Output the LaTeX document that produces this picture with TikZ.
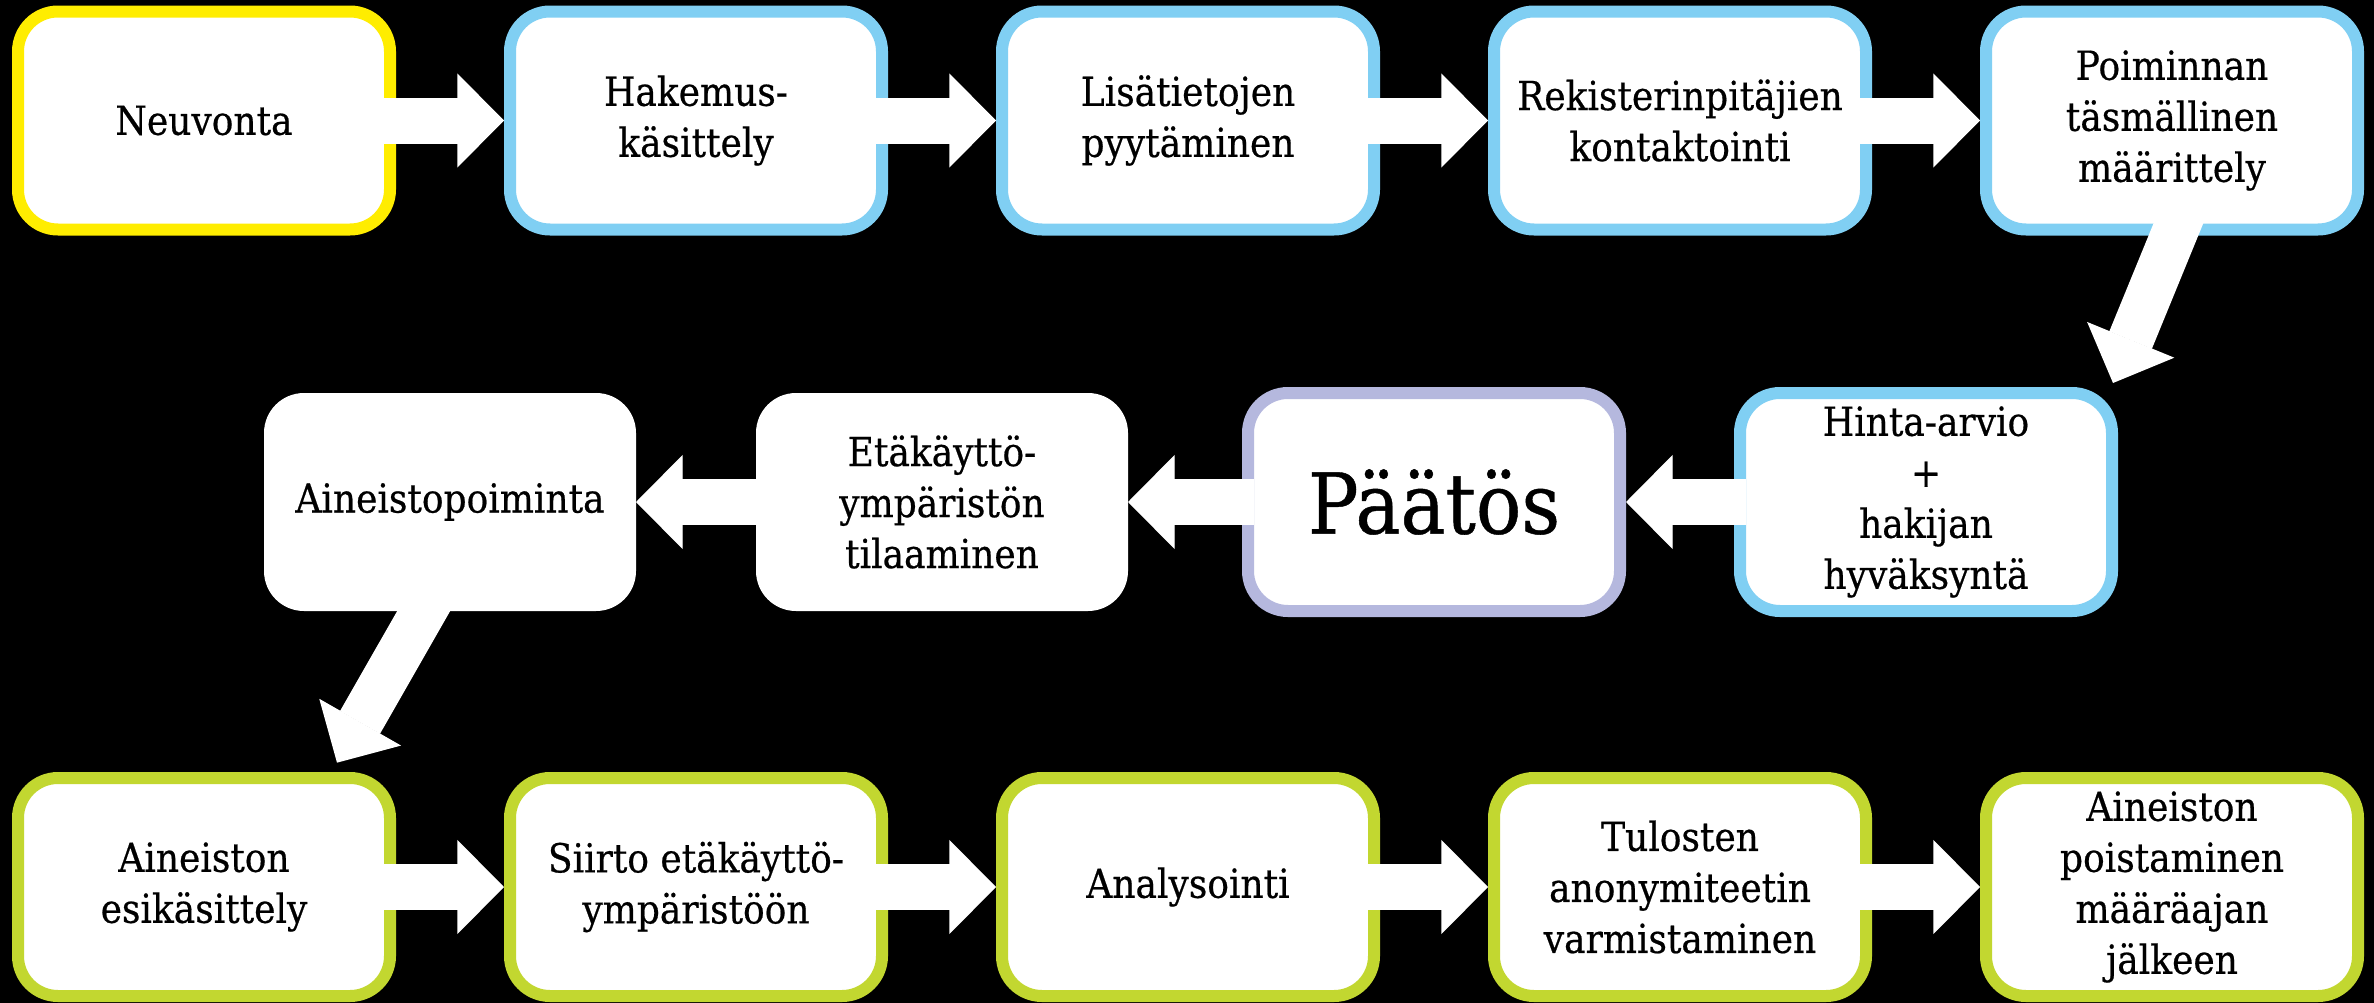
\documentclass[tikz,border=0pt]{standalone}
\usepackage{fontspec}
\setmainfont{DejaVu Serif}[FakeStretch=0.9,FakeBold=0.5]
\usetikzlibrary{arrows.meta}

\definecolor{neuvoyellow}{RGB}{255,237,0}
\definecolor{hakublue}{RGB}{128,207,243}
\definecolor{paatoslila}{RGB}{181,184,222}
\definecolor{ainegreen}{RGB}{194,215,48}

\tikzset{every picture/.style={line width=0.75pt},
  stepbox/.style={rectangle, rounded corners=30pt, fill=white, line width=9pt,
    minimum width=279pt, minimum height=163.5pt, inner sep=0pt, align=center,
    font=\fontsize{30}{38.25}\selectfont},
  plainbox/.style={stepbox, outer sep=0pt},
  flowarrow/.style={draw=white, line width=34.5pt,
    -{Triangle[length=35pt,width=70.5pt,line width=1pt,fill=white]}}}

\begin{document}
\begin{tikzpicture}[x=0.75pt,y=0.75pt,yscale=-1,xscale=1]
	%Shape: Background
	\fill [black] (0,0) rectangle (2374,1003) ;

	%Shape: Rounded Rect row 1
	\node [stepbox, draw=neuvoyellow] (neuvonta) at (204,120.5) {Neuvonta};
	\node [stepbox, draw=hakublue] (hakemus) at (696,120.5) {Hakemus-\\käsittely};
	\node [stepbox, draw=hakublue] (lisatiedot) at (1188,120.5) {Lisätietojen\\pyytäminen};
	\node [stepbox, draw=hakublue] (rekisteri) at (1680,120.5) {Rekisterinpitäjien\\kontaktointi};
	\node [stepbox, draw=hakublue] (maarittely) at (2172,120.5) {Poiminnan\\täsmällinen\\määrittely};

	%Shape: Rounded Rect row 2
	\node [plainbox] (poiminta) at (450,502) {Aineistopoiminta};
	\node [plainbox] (etakaytto) at (942,502) {Etäkäyttö-\\ympäristön\\tilaaminen};
	\node [stepbox, draw=paatoslila, font=\fontsize{63}{72}\selectfont] (paatos) at (1434,502) {Päätös};
	\node [stepbox, draw=hakublue] (hinta) at (1926,502) {Hinta-arvio\\+\\hakijan\\hyväksyntä};

	%Shape: Rounded Rect row 3
	\node [stepbox, draw=ainegreen] (esikasittely) at (204,887) {Aineiston\\esikäsittely};
	\node [stepbox, draw=ainegreen] (siirto) at (696,887) {Siirto etäkäyttö-\\ympäristöön};
	\node [stepbox, draw=ainegreen] (analysointi) at (1188,887) {Analysointi};
	\node [stepbox, draw=ainegreen] (tulosten) at (1680,887) {Tulosten\\anonymiteetin\\varmistaminen};
	\node [stepbox, draw=ainegreen] (poisto) at (2172,887) {Aineiston\\poistaminen\\määräajan\\jälkeen};

	%Block Arrows row 1
	\draw [flowarrow] ([xshift=-9pt]neuvonta.east) -- (hakemus.west) ;
	\draw [flowarrow] ([xshift=-9pt]hakemus.east) -- (lisatiedot.west) ;
	\draw [flowarrow] ([xshift=-9pt]lisatiedot.east) -- (rekisteri.west) ;
	\draw [flowarrow] ([xshift=-9pt]rekisteri.east) -- (maarittely.west) ;
	%Block Arrow down
	\draw [flowarrow] ([xshift=10.5pt,yshift=-23pt]maarittely.south) -- ([xshift=-3.75pt,yshift=-3pt]hinta.north east) ;

	%Block Arrows row 2
	\draw [flowarrow] ([xshift=9pt]hinta.west) -- (paatos.east) ;
	\draw [flowarrow] ([xshift=9pt]paatos.west) -- (etakaytto.east) ;
	\draw [flowarrow] (etakaytto.west) -- (poiminta.east) ;
	%Block Arrow down
	\draw [flowarrow] ([xshift=-9pt,yshift=-18.75pt]poiminta.south) -- ([xshift=99.75pt,yshift=-7pt]esikasittely.north) ;

	%Block Arrows row 3
	\draw [flowarrow] ([xshift=-9pt]esikasittely.east) -- (siirto.west) ;
	\draw [flowarrow] ([xshift=-9pt]siirto.east) -- (analysointi.west) ;
	\draw [flowarrow] ([xshift=-9pt]analysointi.east) -- (tulosten.west) ;
	\draw [flowarrow] ([xshift=-9pt]tulosten.east) -- (poisto.west) ;

\end{tikzpicture}
\end{document}
